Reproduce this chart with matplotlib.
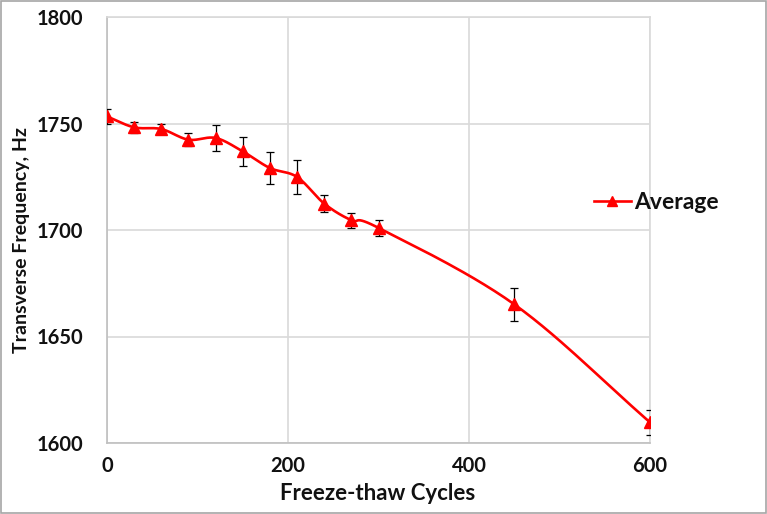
import numpy as np
import matplotlib
matplotlib.use("Agg")
import matplotlib.pyplot as plt
from matplotlib.patches import Rectangle

cycles = [0, 30, 60, 90, 120, 150, 180, 210, 240, 270, 300, 450, 600]
freq = [1753.3, 1748.2, 1747.4, 1742.4, 1743.2, 1736.9, 1729.1, 1724.9, 1712.4, 1704.6, 1701.0, 1665.1, 1609.7]
err = [3.6, 2.7, 2.3, 3.0, 6.0, 6.7, 7.4, 8.0, 3.8, 3.5, 3.6, 7.6, 5.9]
xticks = [0, 200, 400, 600]
yticks = [1600, 1650, 1700, 1750, 1800]

plt.rcParams['font.family'] = ['Lato', 'DejaVu Sans']
plt.rcParams['font.weight'] = 'bold'

fig = plt.figure(figsize=(7.67, 5.14), dpi=100)
ax = fig.add_axes([107/767, 1 - 443/514, (650-107)/767, (443-17)/514])

# Smooth curve through the data points (Catmull-Rom / Bezier, like Excel's smoothed line)
x = np.array(cycles, float)
y = np.array(freq, float)
sx = 1/600.0
sy = 1/200.0 * (426/543)
P = np.column_stack([x*sx, y*sy])
P_ext = np.vstack([2*P[0]-P[1], P, 2*P[-1]-P[-2]])
curve = []
for i in range(1, len(P_ext)-2):
    p0, p1, p2, p3 = P_ext[i-1], P_ext[i], P_ext[i+1], P_ext[i+2]
    c1 = p1 + (p2 - p0) / 6.0
    c2 = p2 - (p3 - p1) / 6.0
    t = np.linspace(0, 1, 30)[:, None]
    seg = ((1-t)**3)*p1 + 3*((1-t)**2)*t*c1 + 3*(1-t)*t**2*c2 + t**3*p2
    curve.append(seg)
curve = np.vstack(curve)
ax.plot(curve[:, 0]/sx, curve[:, 1]/sy, color='#ff0000', lw=1.9, zorder=3)

ax.errorbar(cycles, freq, yerr=err, fmt='none', ecolor='black', elinewidth=0.9,
            capsize=3, capthick=0.9, zorder=4)
ax.plot(cycles, freq, linestyle='none', marker='^', color='#ff0000', ms=8, zorder=5)
ax.plot([], [], color='#ff0000', lw=1.9, marker='^', ms=7, label='Average')

ax.set_xlim(0, 600)
ax.set_ylim(1600, 1800)
ax.set_xticks(xticks)
ax.set_yticks(yticks)
ax.grid(True, color='#d9d9d9', lw=1.2)
ax.set_axisbelow(True)
for s in ax.spines.values():
    s.set_color('#d9d9d9')
    s.set_linewidth(1.2)
ax.spines['left'].set_color('#bfbfbf')
ax.spines['bottom'].set_color('#bfbfbf')
ax.tick_params(length=0, labelsize=14.5, colors='#111111')
ax.tick_params(axis='y', pad=17)
ax.tick_params(axis='x', pad=9)
for lab in ax.get_xticklabels() + ax.get_yticklabels():
    lab.set_fontweight('bold')

fig.text(378/767, 1 - 494/514, 'Freeze-thaw Cycles', ha='center', va='center',
         fontsize=16, fontweight='bold', color='#111111')
fig.text(22/767, 1 - 240/514, 'Transverse Frequency, Hz', ha='center', va='center',
         rotation=90, fontsize=14, fontweight='bold', color='#111111')

leg = fig.legend(loc='center left', bbox_to_anchor=(594/767, 1 - 203/514), frameon=False,
                 prop={'size': 16.5, 'weight': 'bold'}, handlelength=1.6, handletextpad=0.15,
                 borderaxespad=0, borderpad=0)
for t in leg.get_texts():
    t.set_color('#111111')

fig.patches.append(Rectangle((0.001, 0.001), 0.998, 0.997, transform=fig.transFigure,
                             fill=False, edgecolor='#a6a6a6', lw=1.2))

fig.savefig('out.png', dpi=100)
